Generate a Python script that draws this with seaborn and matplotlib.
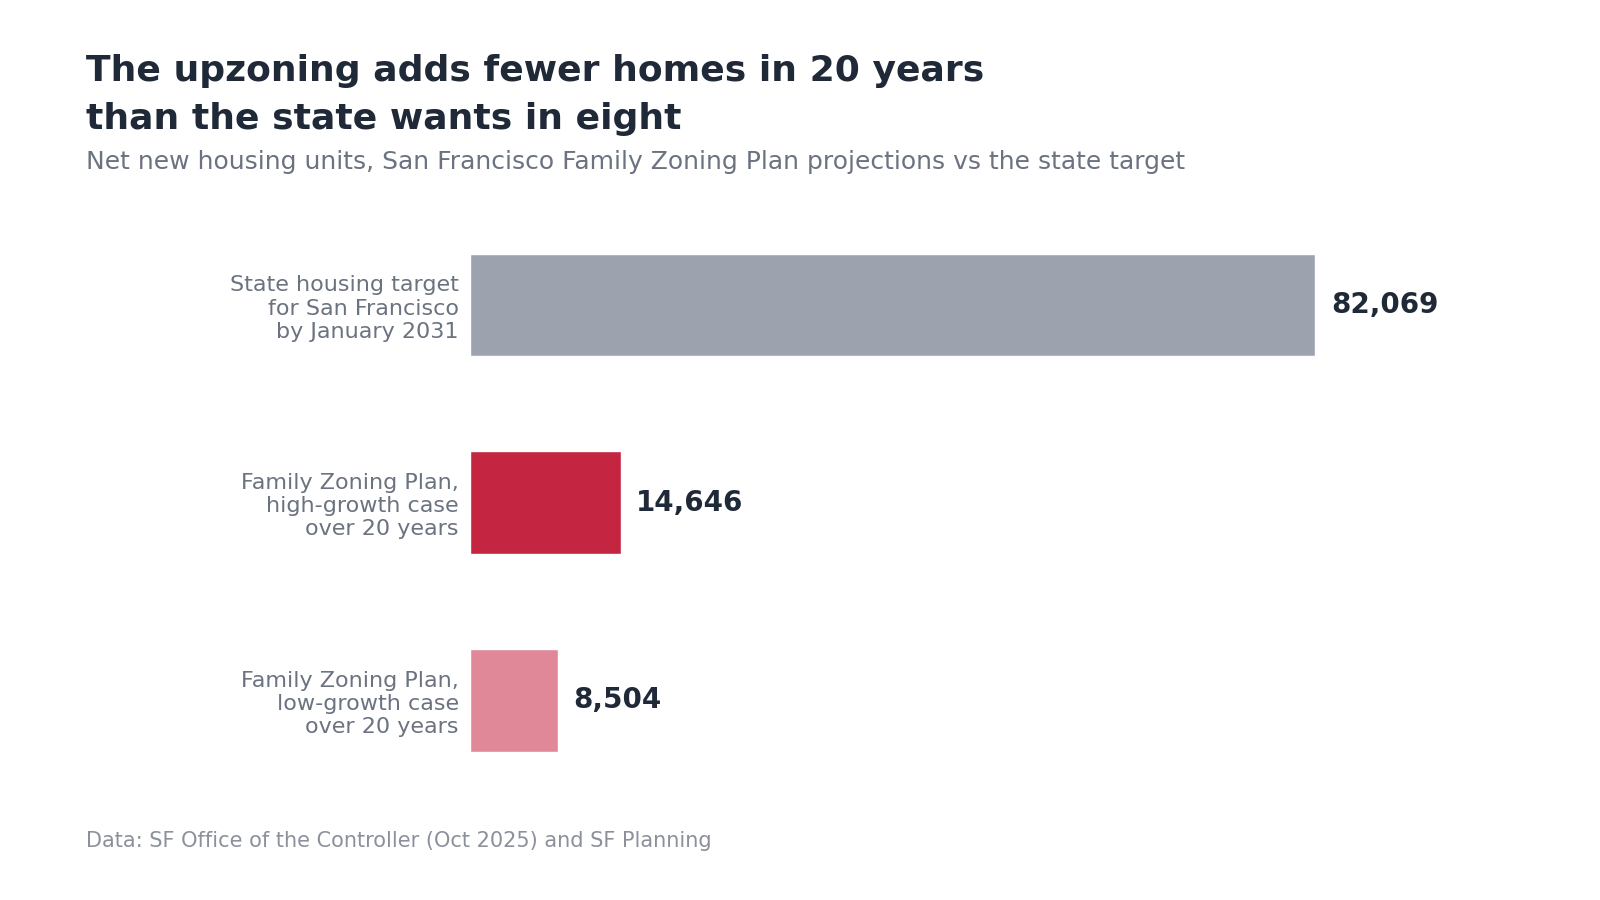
import matplotlib
matplotlib.use("Agg")
import matplotlib.pyplot as plt
import seaborn as sns
import pandas as pd

categories = [
    "State housing target\nfor San Francisco\nby January 2031",
    "Family Zoning Plan,\nhigh-growth case\nover 20 years",
    "Family Zoning Plan,\nlow-growth case\nover 20 years",
]
units = [82069, 14646, 8504]
colors = ["#9ca3af", "#c42540", "#e08898"]

df = pd.DataFrame({"category": categories, "units": units})

sns.set_theme(style="white")
plt.rcParams["font.family"] = ["DejaVu Sans"]

fig = plt.figure(figsize=(16, 9), dpi=100)
ax = fig.add_axes([0.29375, 0.112, 0.64375, 0.659])

sns.barplot(data=df, y="category", x="units", hue="category",
            palette=colors, width=0.52, legend=False, ax=ax, saturation=1)

ax.set_xlim(0, 100000)
ax.set_ylim(2.5, -0.5)
ax.set_xlabel("")
ax.set_ylabel("")
ax.set_xticks([])
sns.despine(ax=ax, left=True, bottom=True)
ax.tick_params(axis="y", length=0, pad=8, labelsize=16, labelcolor="#6b7280")
for lbl in ax.get_yticklabels():
    lbl.set_horizontalalignment("right")

for i, v in enumerate(units):
    ax.text(v + 1500, i, f"{v:,}", va="center", ha="left",
            fontsize=20, fontweight="bold", color="#1f2937")

fig.text(0.054, 0.94, "The upzoning adds fewer homes in 20 years\nthan the state wants in eight",
         fontsize=26, fontweight="bold", color="#1f2937", va="top", linespacing=1.5)
fig.text(0.054, 0.82, "Net new housing units, San Francisco Family Zoning Plan projections vs the state target",
         fontsize=18, color="#6b7280", va="center")
fig.text(0.054, 0.066, "Data: SF Office of the Controller (Oct 2025) and SF Planning",
         fontsize=15, color="#8b909a", va="center")

fig.savefig("out.png", dpi=100)
